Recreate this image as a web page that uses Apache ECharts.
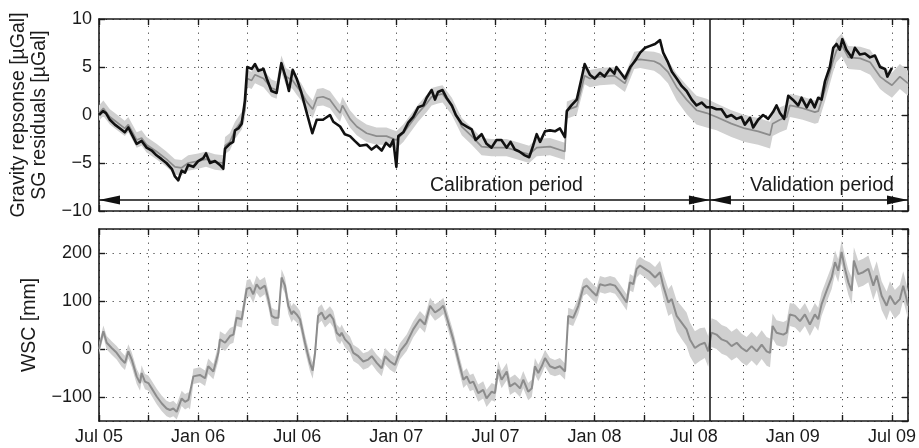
<!DOCTYPE html>
<html>
<head>
<meta charset="utf-8">
<script src="https://cdn.jsdelivr.net/npm/echarts@6/dist/echarts.min.js"></script>
<style>html,body{margin:0;padding:0;background:#fff}#c{width:919px;height:448px}</style>
</head>
<body>
<div id="c"></div>
<script>
// ---- data (decimal year, value[, half-width of uncertainty band]) ----
const sgResiduals = [
[2005.500,0.0],[2005.520,0.4],[2005.535,0.2],[2005.555,-0.5],[2005.580,-1.0],[2005.606,-1.4],[2005.630,-1.8],[2005.648,-1.3],[2005.665,-2.0],[2005.690,-3.0],[2005.715,-2.7],[2005.740,-3.4],[2005.766,-3.7],[2005.790,-4.2],[2005.816,-4.6],[2005.840,-5.0],[2005.867,-5.6],[2005.883,-6.4],[2005.900,-6.8],[2005.917,-5.8],[2005.934,-6.0],[2005.950,-5.2],[2005.976,-5.4],[2006.000,-4.8],[2006.026,-4.5],[2006.040,-4.0],[2006.060,-5.0],[2006.085,-4.8],[2006.110,-5.2],[2006.127,-5.6],[2006.136,-3.5],[2006.160,-3.0],[2006.177,-2.8],[2006.186,-1.6],[2006.203,-1.4],[2006.220,-0.9],[2006.236,1.5],[2006.248,5.0],[2006.270,4.8],[2006.287,5.3],[2006.304,4.6],[2006.330,4.8],[2006.346,3.8],[2006.370,2.5],[2006.396,2.3],[2006.420,5.4],[2006.443,3.8],[2006.458,2.5],[2006.477,4.7],[2006.497,3.8],[2006.520,2.4],[2006.547,0.3],[2006.576,-1.9],[2006.598,-0.5],[2006.630,-0.5],[2006.665,0.0],[2006.682,-0.7],[2006.716,-1.2],[2006.740,-2.0],[2006.766,-2.2],[2006.790,-2.7],[2006.816,-3.2],[2006.850,-3.1],[2006.875,-3.6],[2006.900,-3.2],[2006.926,-3.7],[2006.948,-2.9],[2006.968,-3.3],[2006.984,-2.6],[2007.000,-5.4],[2007.010,-2.2],[2007.035,-1.8],[2007.060,-0.8],[2007.085,-0.2],[2007.110,0.8],[2007.136,1.0],[2007.153,1.8],[2007.178,2.6],[2007.195,1.6],[2007.210,2.4],[2007.233,2.6],[2007.253,1.8],[2007.280,1.0],[2007.300,0.0],[2007.330,-0.9],[2007.355,-1.2],[2007.380,-1.5],[2007.400,-2.6],[2007.430,-2.0],[2007.455,-3.0],[2007.480,-3.4],[2007.505,-2.6],[2007.530,-2.6],[2007.556,-3.4],[2007.576,-2.8],[2007.598,-3.6],[2007.620,-3.8],[2007.648,-4.2],[2007.670,-4.4],[2007.690,-3.2],[2007.708,-2.0],[2007.725,-2.8],[2007.750,-1.7],[2007.775,-1.6],[2007.800,-1.7],[2007.825,-1.4],[2007.850,-2.3],[2007.860,0.4],[2007.883,1.0],[2007.910,1.6],[2007.934,3.8],[2007.950,5.3],[2007.976,4.2],[2008.000,3.8],[2008.027,4.4],[2008.050,4.0],[2008.077,4.8],[2008.100,4.3],[2008.110,5.0],[2008.128,4.5],[2008.153,3.8],[2008.180,5.0],[2008.203,5.6],[2008.230,6.5],[2008.255,7.0],[2008.280,7.2],[2008.305,7.4],[2008.330,7.8],[2008.346,6.5],[2008.370,5.5],[2008.390,4.5],[2008.414,3.8],[2008.440,3.0],[2008.464,2.5],[2008.490,1.6],[2008.514,1.0],[2008.540,1.3],[2008.565,0.8],[2008.590,0.8],[2008.615,0.6],[2008.640,0.6],[2008.666,-0.2],[2008.690,0.0],[2008.716,-0.4],[2008.740,-0.2],[2008.758,-1.0],[2008.784,-0.3],[2008.800,-1.3],[2008.825,-0.5],[2008.850,0.0],[2008.876,-0.4],[2008.900,0.3],[2008.918,1.0],[2008.935,0.2],[2008.956,-0.4],[2008.977,2.0],[2009.000,1.6],[2009.027,1.0],[2009.044,1.8],[2009.070,0.8],[2009.090,1.6],[2009.110,0.8],[2009.128,1.8],[2009.145,1.6],[2009.162,3.5],[2009.187,5.0],[2009.204,7.0],[2009.220,7.4],[2009.237,6.8],[2009.250,7.9],[2009.270,6.8],[2009.297,6.0],[2009.313,7.0],[2009.338,6.3],[2009.364,6.4],[2009.389,6.0],[2009.414,6.2],[2009.440,5.0],[2009.465,4.8],[2009.477,4.0],[2009.500,4.9]
];
const gravityModel = [
[2005.500,0.2,0.8],[2005.522,0.7,0.8],[2005.555,-0.2,0.8],[2005.580,-0.6,0.8],[2005.630,-1.4,0.8],[2005.648,-1.0,0.8],[2005.690,-2.6,0.8],[2005.715,-2.4,0.8],[2005.740,-3.1,0.8],[2005.790,-3.8,0.8],[2005.840,-4.6,0.8],[2005.883,-5.4,0.8],[2005.917,-5.5,0.8],[2005.950,-5.0,0.8],[2006.000,-4.8,0.8],[2006.040,-4.6,0.8],[2006.085,-4.9,0.8],[2006.127,-5.0,0.8],[2006.136,-3.2,0.9],[2006.160,-2.8,0.9],[2006.186,-1.6,0.9],[2006.220,-0.6,0.9],[2006.236,0.5,0.9],[2006.248,3.8,0.9],[2006.270,3.6,0.9],[2006.287,4.2,0.9],[2006.330,3.8,0.9],[2006.370,2.8,0.9],[2006.396,2.6,0.9],[2006.420,5.3,0.9],[2006.443,4.0,0.9],[2006.477,3.6,0.9],[2006.497,3.0,0.9],[2006.520,2.4,0.9],[2006.547,1.4,0.9],[2006.578,0.6,0.9],[2006.600,1.8,0.9],[2006.630,1.9,0.9],[2006.665,1.6,0.9],[2006.700,0.6,0.9],[2006.716,0.2,0.9],[2006.728,1.0,0.9],[2006.766,-0.4,0.9],[2006.800,-1.2,0.9],[2006.850,-1.9,0.9],[2006.900,-2.2,0.9],[2006.950,-2.2,0.9],[2007.000,-2.6,0.9],[2007.035,-1.9,0.9],[2007.085,-0.5,0.9],[2007.110,0.2,0.9],[2007.153,1.2,0.9],[2007.178,1.9,0.9],[2007.210,2.1,0.9],[2007.233,2.2,0.9],[2007.280,0.9,0.9],[2007.330,-1.2,0.9],[2007.380,-2.2,0.9],[2007.430,-3.3,0.9],[2007.480,-3.4,0.9],[2007.556,-3.4,0.9],[2007.620,-3.8,0.9],[2007.670,-4.1,0.9],[2007.708,-3.4,0.9],[2007.775,-3.3,0.9],[2007.850,-3.8,0.9],[2007.860,0.5,0.9],[2007.910,0.9,0.9],[2007.934,2.8,0.9],[2007.950,4.1,0.9],[2007.976,3.8,0.9],[2008.027,4.0,0.9],[2008.100,4.1,0.9],[2008.153,3.3,0.9],[2008.200,5.7,0.9],[2008.230,5.8,0.9],[2008.300,5.6,1.0],[2008.330,5.3,1.1],[2008.370,4.5,1.2],[2008.414,2.9,1.4],[2008.464,1.6,1.5],[2008.514,0.5,1.5],[2008.565,0.2,1.5],[2008.615,-0.2,1.4],[2008.690,-0.9,1.4],[2008.758,-1.4,1.4],[2008.825,-1.7,1.4],[2008.885,-2.1,1.4],[2008.898,-0.9,1.3],[2008.935,-0.5,1.3],[2008.969,-0.2,1.3],[2008.985,1.0,1.2],[2009.011,0.9,1.2],[2009.050,0.7,1.2],[2009.111,0.3,1.2],[2009.128,0.4,1.2],[2009.162,2.6,1.2],[2009.204,5.7,1.2],[2009.220,6.7,1.2],[2009.246,7.3,1.2],[2009.280,6.0,1.2],[2009.340,5.9,1.2],[2009.390,5.5,1.3],[2009.440,4.0,1.3],[2009.465,3.6,1.3],[2009.500,3.1,1.3],[2009.540,4.0,1.3],[2009.581,3.3,1.3]
];
const wscModel = [
[2005.500,0,12],[2005.522,37,12],[2005.539,13,14],[2005.564,2,14],[2005.589,-8,14],[2005.614,-22,15],[2005.631,-29,15],[2005.648,-5,15],[2005.665,-22,15],[2005.690,-57,16],[2005.707,-71,16],[2005.715,-50,16],[2005.732,-68,16],[2005.749,-71,16],[2005.766,-82,16],[2005.791,-99,16],[2005.816,-113,16],[2005.841,-124,16],[2005.858,-127,16],[2005.875,-124,16],[2005.892,-131,16],[2005.917,-103,16],[2005.934,-110,16],[2005.951,-106,16],[2005.959,-110,16],[2005.976,-57,16],[2006.009,-54,16],[2006.035,-61,16],[2006.051,-36,16],[2006.077,-47,16],[2006.102,-8,17],[2006.110,20,17],[2006.136,13,17],[2006.161,27,17],[2006.178,30,17],[2006.194,65,17],[2006.220,62,17],[2006.245,125,18],[2006.262,128,18],[2006.278,114,18],[2006.295,135,18],[2006.312,125,18],[2006.337,132,18],[2006.354,104,17],[2006.371,69,17],[2006.388,65,17],[2006.405,65,17],[2006.421,149,17],[2006.438,132,17],[2006.455,90,17],[2006.472,72,17],[2006.480,79,17],[2006.497,72,17],[2006.514,62,17],[2006.539,13,17],[2006.564,-29,17],[2006.578,-45,17],[2006.590,-8,17],[2006.605,69,17],[2006.623,76,17],[2006.640,62,17],[2006.665,72,17],[2006.682,62,17],[2006.699,34,17],[2006.716,27,17],[2006.724,34,17],[2006.741,20,17],[2006.766,9,17],[2006.783,-8,17],[2006.808,-15,17],[2006.833,-26,17],[2006.858,-22,17],[2006.876,-15,17],[2006.901,-29,17],[2006.926,-40,17],[2006.943,-15,17],[2006.968,-26,17],[2006.993,-33,17],[2007.018,-5,17],[2007.052,13,17],[2007.085,41,17],[2007.119,62,17],[2007.144,51,17],[2007.170,90,17],[2007.195,76,17],[2007.220,83,17],[2007.237,90,17],[2007.262,55,17],[2007.287,20,17],[2007.312,-22,17],[2007.338,-64,17],[2007.355,-57,17],[2007.371,-71,17],[2007.388,-68,17],[2007.413,-92,18],[2007.438,-85,18],[2007.455,-103,18],[2007.481,-89,18],[2007.497,-92,18],[2007.514,-43,18],[2007.531,-64,18],[2007.557,-47,18],[2007.573,-78,18],[2007.598,-71,18],[2007.624,-82,18],[2007.640,-64,18],[2007.665,-89,18],[2007.683,-82,18],[2007.699,-36,17],[2007.716,-50,17],[2007.733,-36,17],[2007.750,-19,17],[2007.775,-36,17],[2007.800,-40,17],[2007.825,-36,17],[2007.851,-47,17],[2007.867,69,17],[2007.892,65,17],[2007.918,90,17],[2007.943,128,17],[2007.960,132,17],[2007.985,121,17],[2008.010,111,17],[2008.027,135,17],[2008.052,132,17],[2008.078,135,17],[2008.103,132,17],[2008.128,118,17],[2008.162,97,17],[2008.178,139,17],[2008.195,135,17],[2008.212,167,18],[2008.229,174,18],[2008.254,167,18],[2008.279,160,20],[2008.305,149,22],[2008.330,160,24],[2008.346,132,26],[2008.372,97,28],[2008.389,104,30],[2008.414,69,32],[2008.439,55,34],[2008.464,41,35],[2008.481,20,35],[2008.506,2,35],[2008.531,9,34],[2008.556,13,32],[2008.573,-5,32],[2008.590,34,30],[2008.615,30,30],[2008.641,20,30],[2008.666,16,30],[2008.691,6,30],[2008.717,13,30],[2008.742,2,30],[2008.767,-5,30],[2008.792,6,30],[2008.818,-5,30],[2008.843,9,30],[2008.868,-5,30],[2008.885,-8,30],[2008.898,48,26],[2008.918,34,26],[2008.952,30,26],[2008.969,34,26],[2008.985,72,24],[2009.011,69,24],[2009.036,58,24],[2009.061,72,24],[2009.086,51,24],[2009.111,72,24],[2009.128,62,24],[2009.145,93,24],[2009.170,121,24],[2009.196,149,24],[2009.213,181,24],[2009.229,163,24],[2009.246,202,24],[2009.263,167,26],[2009.280,139,26],[2009.297,121,28],[2009.308,184,28],[2009.330,156,28],[2009.355,160,28],[2009.381,167,28],[2009.406,132,30],[2009.423,153,30],[2009.448,111,30],[2009.473,90,30],[2009.490,111,30],[2009.515,93,30],[2009.540,104,30],[2009.557,132,30],[2009.574,104,30],[2009.581,90,30]
];
const monthLabels = {0: 'Jan', 0.5: 'Jul'};
const periodNames = ['Calibration period', 'Validation period'];
const periodBounds = [2005.5, 2008.582, 2009.581];
const arrowLevel = -8.85;
const topAxisName = 'Gravity repsonse [µGal]\nSG residuals [µGal]';
const bottomAxisName = 'WSC [mm]';

// ---- chart ----
const FONT = '"Liberation Sans", Arial, Helvetica, sans-serif';
const INK = '#1a1a1a';
const chart = echarts.init(document.getElementById('c'), null, {renderer: 'canvas'});

function xLabel(v) {
  const yr = Math.floor(v + 1e-6);
  const f = Math.round((v - yr) * 100) / 100;
  if (monthLabels[f] === undefined) return '';
  return monthLabels[f] + ' ' + String(yr % 100).padStart(2, '0');
}
function minus(v) { return String(v).replace('-', '\u2212'); }

const dotted = {show: true, lineStyle: {color: '#444', width: 1, type: [1.2, 5.6]}};
function xAxisDef(grid, pos, labels, split) {
  return {
    type: 'value', gridIndex: grid, position: pos, min: periodBounds[0], max: periodBounds[2], interval: 0.25,
    axisLine: {show: true, onZero: false, lineStyle: {color: INK, width: 1.6}},
    axisTick: {show: true, inside: true, length: 6, lineStyle: {color: INK, width: 1.4}},
    axisLabel: {show: labels, formatter: xLabel, color: INK, fontSize: 18, fontFamily: FONT, margin: 7, showMaxLabel: false},
    splitLine: split ? dotted : {show: false}
  };
}
function yAxisDef(grid, pos, ext, labels, name, gap) {
  const a = {
    type: 'value', gridIndex: grid, position: pos, min: ext[0], max: ext[1],
    axisLine: {show: true, onZero: false, lineStyle: {color: INK, width: 1.6}},
    axisTick: {show: true, inside: true, length: 6, lineStyle: {color: INK, width: 1.4}},
    axisLabel: {show: labels, formatter: minus, color: INK, fontSize: 18, fontFamily: FONT, margin: 7,
                showMinLabel: ext[2] === 'all', showMaxLabel: ext[2] === 'all'},
    splitLine: labels ? dotted : {show: false}
  };
  if (ext[3]) { a.interval = ext[3]; } else { a.minInterval = ext[4]; a.maxInterval = ext[4]; }
  if (name) {
    a.name = name; a.nameLocation = 'middle'; a.nameGap = gap;
    a.nameTextStyle = {color: INK, fontSize: 19.5, fontFamily: FONT, lineHeight: 21};
  }
  return a;
}

function bandSeries(data, xi, yi) {
  return {
    type: 'custom', xAxisIndex: xi, yAxisIndex: yi, silent: true, z: 1,
    data: data.map(d => [d[0], d[1]]),
    encode: {x: 0, y: 1},
    renderItem: function (params, api) {
      if (params.dataIndex !== 0) return null;
      const up = [], lo = [];
      for (const d of data) {
        up.push(api.coord([d[0], d[1] + d[2]]));
        lo.push(api.coord([d[0], d[1] - d[2]]));
      }
      return {type: 'polygon', shape: {points: up.concat(lo.reverse())}, style: {fill: '#d0d0d0', stroke: null}};
    }
  };
}

const HEAD = [9, 21];
const HEAD_OFFSET = [0, 10.5];
const vline = (ymin, ymax) => [
  {coord: [periodBounds[1], ymin], symbol: 'none'},
  {coord: [periodBounds[1], ymax], symbol: 'none'}
];
const arrow = (a, b) => [
  {coord: [a, arrowLevel], symbol: 'triangle', symbolSize: HEAD, symbolOffset: HEAD_OFFSET},
  {coord: [b, arrowLevel], symbol: 'triangle', symbolSize: HEAD, symbolOffset: HEAD_OFFSET}
];

const option = {
  animation: false,
  backgroundColor: '#fff',
  grid: [
    {left: 99, right: 11, top: 19, height: 192},
    {left: 99, right: 11, top: 229, height: 192}
  ],
  xAxis: [
    xAxisDef(0, 'bottom', false, true),
    xAxisDef(0, 'top', false, false),
    xAxisDef(1, 'bottom', true, true),
    xAxisDef(1, 'top', false, false)
  ],
  yAxis: [
    yAxisDef(0, 'left', [-10, 10, 'all', 5], true, topAxisName, 47),
    yAxisDef(0, 'right', [-10, 10, 'all', 5], false),
    yAxisDef(1, 'left', [-150, 250, 'none', 0, 100], true, bottomAxisName, 48),
    yAxisDef(1, 'right', [-150, 250, 'none', 0, 100], false)
  ],
  graphic: [
    {type: 'text', left: 430, top: 176, style: {text: periodNames[0], fill: INK, font: '19.5px ' + FONT}},
    {type: 'text', left: 750, top: 176, style: {text: periodNames[1], fill: INK, font: '19.5px ' + FONT}}
  ],
  series: [
    bandSeries(gravityModel, 0, 0),
    {
      type: 'line', xAxisIndex: 0, yAxisIndex: 0, showSymbol: false, symbol: 'none', z: 2,
      data: gravityModel.map(d => [d[0], d[1]]),
      lineStyle: {color: '#8c8c8c', width: 1.7}
    },
    {
      type: 'line', xAxisIndex: 0, yAxisIndex: 0, showSymbol: false, symbol: 'none', z: 3,
      data: sgResiduals,
      lineStyle: {color: '#111', width: 2.6, join: 'round'},
      markLine: {
        silent: true, animation: false, label: {show: false},
        symbol: ['triangle', 'triangle'], symbolSize: HEAD,
        lineStyle: {color: '#111', width: 1.5, type: 'solid'},
        data: [vline(-10, 10), arrow(periodBounds[0], periodBounds[1]), arrow(periodBounds[1], periodBounds[2])]
      }
    },
    bandSeries(wscModel, 2, 2),
    {
      type: 'line', xAxisIndex: 2, yAxisIndex: 2, showSymbol: false, symbol: 'none', z: 2,
      data: wscModel.map(d => [d[0], d[1]]),
      lineStyle: {color: '#8c8c8c', width: 2},
      markLine: {
        silent: true, animation: false, label: {show: false}, symbol: ['none', 'none'],
        lineStyle: {color: '#111', width: 1.5, type: 'solid'},
        data: [vline(-150, 250)]
      }
    }
  ]
};
chart.setOption(option);
</script>
</body>
</html>
